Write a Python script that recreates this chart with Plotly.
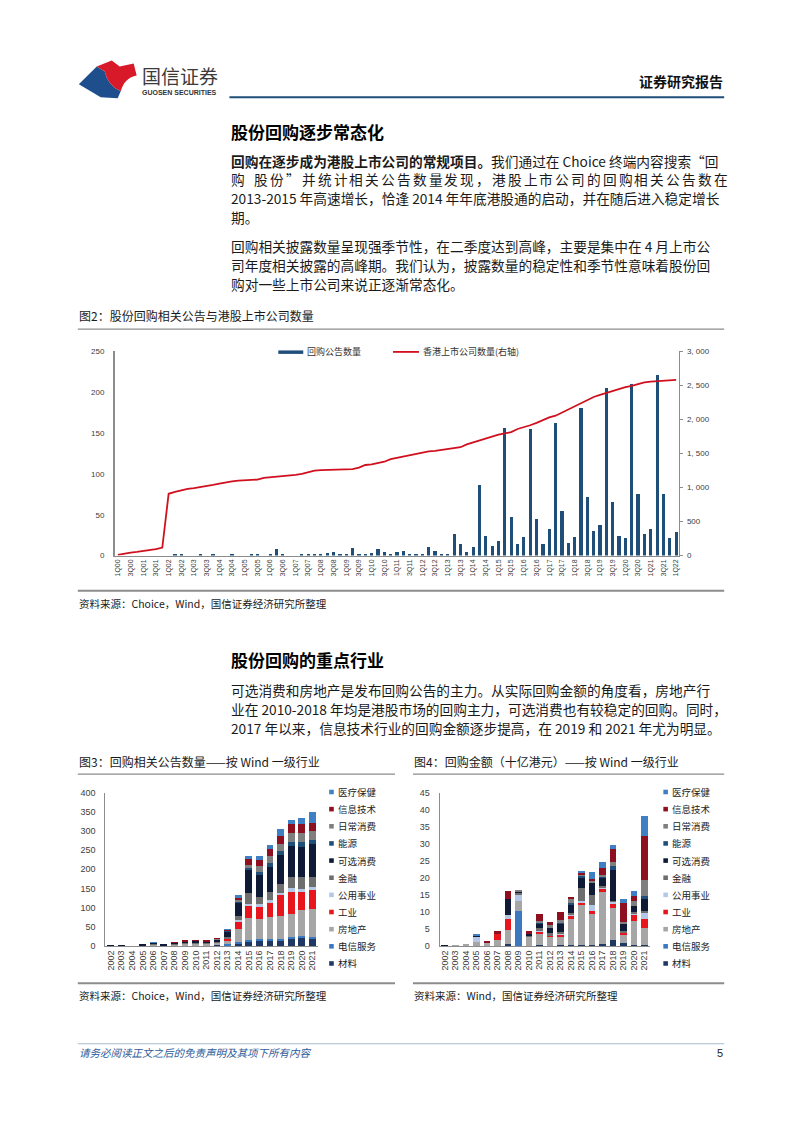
import plotly.graph_objects as go

W, H = 802, 1133
def px(x): return x / W
def py(y): return 1 - y / H

# ---------------- Figure 2 data ----------------
quarters = ['1Q00','2Q00','3Q00','4Q00','1Q01','2Q01','3Q01','4Q01','1Q02','2Q02','3Q02','4Q02',
            '1Q03','2Q03','3Q03','4Q03','1Q04','2Q04','3Q04','4Q04','1Q05','2Q05','3Q05','4Q05',
            '1Q06','2Q06','3Q06','4Q06','1Q07','2Q07','3Q07','4Q07','1Q08','2Q08','3Q08','4Q08',
            '1Q09','2Q09','3Q09','4Q09','1Q10','2Q10','3Q10','4Q10','1Q11','2Q11','3Q11','4Q11',
            '1Q12','2Q12','3Q12','4Q12','1Q13','2Q13','3Q13','4Q13','1Q14','2Q14','3Q14','4Q14',
            '1Q15','2Q15','3Q15','4Q15','1Q16','2Q16','3Q16','4Q16','1Q17','2Q17','3Q17','4Q17',
            '1Q18','2Q18','3Q18','4Q18','1Q19','2Q19','3Q19','4Q19','1Q20','2Q20','3Q20','4Q20',
            '1Q21','2Q21','3Q21','4Q21','1Q22']
buyback_counts = [0, 0, 0, 0, 0, 0, 0, 0, 0,
                  0.3, 0.3, 0, 0, 0.3, 0, 0.3, 0, 0, 0.3, 0,
                  0, 1.5, 1, 0, 0.5, 7.5, 2, 0, 0, 1,
                  2, 1, 0.5, 3, 4.5, 0.5, 2, 9, 2.5, 1.5,
                  3, 7.5, 4, 1, 5, 5.5, 2, 1, 0.5, 11,
                  5.5, 0.5, 0.5, 26, 14, 4, 10, 86, 24, 12,
                  18, 156, 47, 14, 23, 155, 45, 14, 32, 162,
                  55, 16, 23, 181, 72, 30, 38, 205, 66, 24,
                  22, 210, 76, 27, 32, 221, 76, 22, 29]
hk_listed = [10, 30, 45, 55, 65, 80, 95, 117, 908, 935,
             960, 981, 992, 1005, 1020, 1039, 1058, 1078, 1090, 1103,
             1108, 1112, 1117, 1141, 1150, 1155, 1161, 1172, 1185, 1200,
             1219, 1248, 1255, 1260, 1263, 1266, 1270, 1272, 1292, 1331,
             1340, 1355, 1379, 1418, 1437, 1460, 1482, 1500, 1515, 1530,
             1540, 1552, 1562, 1575, 1592, 1635, 1665, 1695, 1727, 1752,
             1776, 1795, 1815, 1860, 1885, 1915, 1950, 1994, 2030, 2055,
             2100, 2150, 2190, 2245, 2290, 2330, 2360, 2390, 2410, 2450,
             2475, 2495, 2520, 2545, 2555, 2562, 2572, 2580, 2582]
quarter_ticks = quarters[::2]
left_ticks = [0, 50, 100, 150, 200, 250]
right_ticks = [0, 500, 1000, 1500, 2000, 2500, 3000]
right_ticktext = ['0', '500', '1, 000', '1, 500', '2, 000', '2, 500', '3, 000']

# ---------------- Figure 3 / 4 data ----------------
years = ['2002','2003','2004','2005','2006','2007','2008','2009','2010','2011',
         '2012','2013','2014','2015','2016','2017','2018','2019','2020','2021']
industry_names = ['材料', '电信服务', '房地产', '工业', '公用事业', '金融',
                  '可选消费', '能源', '日常消费', '信息技术', '医疗保健']
# counts of announcements (Fig 3)
cnt_materials   = [0,0,0,0,1,0,1,2,1,1,2,3,7,13,15,15,15,19,22,21]
cnt_telecom     = [0,0,0,0,0,0,0,0,0,0,0,1,2,3,3,3,3,3,3,2]
cnt_realestate  = [1,0,0.5,1,3,2,3,4,5,5,7,10,36,57,51,58,60,61,68,73]
cnt_industrials = [0,0,0,1,1,1,1,2,2,2,2,5,19,31,33,36,54,59,47,50]
cnt_utilities   = [0,0,0,0,0,0,0,0,0,0,0,1,4,6,7,7,6,10,8,7]
cnt_financials  = [0,0,0,0,1,0,1,1,2,1,2,3,11,28,20,21,24,27,33,26]
cnt_consdisc    = [1,1,0,2,3,2,3,4,4,3,5,15,35,59,57,67,75,82,78,86]
cnt_energy      = [0,0,0,0,0,0,0,0,0,0,0,2,4,6,8,9,10,11,11,11]
cnt_staples     = [0,0,0,0,0,0,0,0,0,1,1,2,4,9,15,18,20,24,24,24]
cnt_infotech    = [0,0,0,0,0,0,1,1,1,1,1,1,3,14,15,19,20,21,23,22]
cnt_health      = [0,0,0,0,1,0,0,0,0,0,0,2,7,8,12,10,18,13,18,28]
# amounts, HKD bn (Fig 4)
amt_materials   = [0,0,0,0,0,0,0.5,0,0,0.3,0,0.3,0.3,0.4,0.3,0.5,1.8,0.8,0.2,0.2]
amt_telecom     = [0,0,0,0,0,0,0,10.2,0,0,0,0,0,0,0,0,0,0,0,0]
amt_realestate  = [0,0.1,0.6,1.2,1.2,1.8,4.2,2.9,2.9,3.4,2.9,2.6,7.7,12.0,9.2,15.3,9.4,2.6,7.2,5.1]
amt_industrials = [0,0,0,0,0,1.7,3.1,0,0,0.5,0.3,0.5,1.0,0.5,0.8,1.2,1.4,0.5,1.8,2.7]
amt_utilities   = [0,0,0,1.6,0,0,1.2,2.0,0,0.2,0,0.3,0.3,0.3,1.8,0.2,0.4,0.2,0.4,2.0]
amt_financials  = [0,0,0,0,0,0,0,0.3,0.2,1.0,0.5,0.5,0.3,3.8,2.9,0.3,0.2,0.3,0.3,0.3]
amt_consdisc    = [0.2,0,0,0.3,0,0,4.7,0.7,0.5,1.2,1.9,2.4,2.6,3.3,3.4,2.8,9.0,2.2,1.7,3.4]
amt_energy      = [0,0,0,0,0,0,0,0,0,0.3,0,0.5,0.3,0.3,0,0.2,1.2,0,0,1.0]
amt_staples     = [0,0,0,0,0,0,0,0.3,0,0.4,0.5,0.4,1.2,0.6,0.6,0.2,1.2,0.3,1.6,4.7]
amt_infotech    = [0,0,0,0,0.3,1.0,2.4,0,0.9,2.0,0.8,2.5,0.6,0.5,0.6,2.3,4.0,5.7,1.6,12.9]
amt_health      = [0,0,0,0.3,0,0,0,0,0,0,0,0,0,0.3,2.0,1.6,1.0,1.1,1.3,6.0]

cnt_series = [cnt_materials, cnt_telecom, cnt_realestate, cnt_industrials, cnt_utilities,
              cnt_financials, cnt_consdisc, cnt_energy, cnt_staples, cnt_infotech, cnt_health]
amt_series = [amt_materials, amt_telecom, amt_realestate, amt_industrials, amt_utilities,
              amt_financials, amt_consdisc, amt_energy, amt_staples, amt_infotech, amt_health]
industry_colors = ['#1F3864', '#3B78BF', '#A6A6A6', '#E8161C', '#B4C7E7', '#6E6E6E',
                   '#0E1A36', '#1F4E79', '#7F7F7F', '#8E1020', '#3F7FC4']

BLUE = '#1F4E79'
RED = '#D0101E'
TICK = '#404040'
NUMFONT = 'Liberation Sans'
CJK = 'Noto Sans CJK SC'

fig = go.Figure()
fig.add_trace(go.Bar(x=quarters, y=buyback_counts, marker=dict(color=BLUE, line=dict(width=0)),
                     width=0.5, xaxis='x', yaxis='y', showlegend=False, name='回购公告数量'))
fig.add_trace(go.Scatter(x=quarters, y=hk_listed, mode='lines', line=dict(color=RED, width=1.8),
                         xaxis='x', yaxis='y2', showlegend=False, name='香港上市公司数量(右轴)'))
for name, cnt, amt, col in zip(industry_names, cnt_series, amt_series, industry_colors):
    fig.add_trace(go.Bar(x=years, y=cnt, marker=dict(color=col, line=dict(width=0)), width=0.64,
                         xaxis='x3', yaxis='y3', showlegend=False, name=name))
    fig.add_trace(go.Bar(x=years, y=amt, marker=dict(color=col, line=dict(width=0)), width=0.64,
                         xaxis='x4', yaxis='y4', showlegend=False, name=name))

axis_common = dict(showgrid=False, zeroline=False, showline=True, linecolor='#8C8C8C')
fig.update_layout(
    width=W, height=H, margin=dict(l=0, r=0, t=0, b=0),
    paper_bgcolor='white', plot_bgcolor='white', barmode='stack', showlegend=False,
    font=dict(family=CJK, color='#1a1a1a'),
    xaxis=dict(domain=[px(114), px(680)], anchor='y', type='category', range=[-0.5, 88.5],
               tickmode='array', tickvals=quarter_ticks, tickangle=-90, ticks='',
               tickfont=dict(family=NUMFONT, size=7, color=TICK), linewidth=1, **axis_common),
    yaxis=dict(domain=[py(555.5), py(349.5)], anchor='x', range=[0, 250], tickmode='array',
               tickvals=left_ticks, ticks='', ticklabelstandoff=7,
               tickfont=dict(family=NUMFONT, size=8, color=TICK), linewidth=1.5, **axis_common),
    yaxis2=dict(overlaying='y', anchor='x', side='right', range=[0, 3000], tickmode='array',
                tickvals=right_ticks, ticktext=right_ticktext, ticks='outside', ticklen=3,
                tickcolor='#8C8C8C', ticklabelstandoff=2,
                tickfont=dict(family=NUMFONT, size=8, color=TICK), linewidth=1, **axis_common),
    xaxis3=dict(domain=[px(104.7), px(317.6)], anchor='y3', type='category', tickangle=-90,
                tickmode='array', tickvals=years, range=[-0.5, 19.5],
                ticks='', tickfont=dict(family=NUMFONT, size=9, color=TICK), linewidth=1, **axis_common),
    yaxis3=dict(domain=[py(949.3), py(794.7)], anchor='x3', range=[0, 400], dtick=50, ticks='',
                ticklabelstandoff=7, tickfont=dict(family=NUMFONT, size=9, color=TICK),
                linewidth=1.2, **axis_common),
    xaxis4=dict(domain=[px(439.7), px(650.3)], anchor='y4', type='category', tickangle=-90,
                tickmode='array', tickvals=years, range=[-0.5, 19.5],
                ticks='', tickfont=dict(family=NUMFONT, size=9, color=TICK), linewidth=1, **axis_common),
    yaxis4=dict(domain=[py(949.3), py(794.7)], anchor='x4', range=[0, 45], dtick=5, ticks='',
                ticklabelstandoff=7, tickfont=dict(family=NUMFONT, size=9, color=TICK),
                linewidth=1.2, **axis_common),
)

shapes = []
annotations = []

def hline(x0, x1, y, color, width):
    shapes.append(dict(type='line', xref='paper', yref='paper', x0=px(x0), x1=px(x1),
                       y0=py(y), y1=py(y), line=dict(color=color, width=width)))

def rect(x0, y0, x1, y1, color):
    shapes.append(dict(type='rect', xref='paper', yref='paper', x0=px(x0), x1=px(x1),
                       y0=py(y1), y1=py(y0), fillcolor=color, line=dict(width=0)))

def text(x, y, s, size, color='#1a1a1a', anchor='left', family=CJK):
    annotations.append(dict(xref='paper', yref='paper', x=px(x), y=py(y), text=s,
                            showarrow=False, xanchor=anchor, yanchor='middle',
                            font=dict(size=size, color=color, family=family), borderpad=0))

def spread(x0, x1, y, s, size):
    # justified line: place each character evenly between x0 and x1
    n = len(s)
    step = (x1 - x0 - size) / (n - 1)
    for i, ch in enumerate(s):
        text(x0 + i * step, y, ch, size)

def path(points):
    segs = []
    for cmd, pts in points:
        coords = ' '.join(f'{px(a):.5f},{py(b):.5f}' for a, b in pts)
        segs.append(f'{cmd} {coords}')
    return ' '.join(segs) + ' Z'

# ---- header ----
shapes.append(dict(type='path', xref='paper', yref='paper', fillcolor='#1E4F8C', line=dict(width=0),
                   path=path([('M', [(78, 80)]), ('L', [(96, 62)]), ('L', [(104, 67)]),
                              ('Q', [(107, 81), (120, 87)]), ('L', [(117, 94)]), ('L', [(100, 93)])])))
shapes.append(dict(type='path', xref='paper', yref='paper', fillcolor='#D7192A', line=dict(width=0),
                   path=path([('M', [(96, 62)]), ('L', [(111, 56)]), ('L', [(119, 62)]),
                              ('L', [(133, 59)]), ('L', [(136, 71)]), ('Q', [(124, 73), (120, 87)]),
                              ('Q', [(107, 81), (104, 67)])])))
text(140, 71, '国信证券', 19, '#3a3a3a')
text(140, 88, '<b>GUOSEN SECURITIES</b>', 7, '#333333', family=NUMFONT)
text(725, 77, '<b>证券研究报告</b>', 14, '#111111', anchor='right')
hline(229, 725, 93, '#1F4E79', 2)

# ---- section 1 ----
BODY = 13.7
text(230, 128, '<b>股份回购逐步常态化</b>', 17, '#000000')
text(230, 157, '<b>回购在逐步成为港股上市公司的常规项目。</b>我们通过在 Choice 终端内容搜索“回', BODY)
text(230, 176, '购', BODY)
spread(253, 727, 176, '股份”并统计相关公告数量发现，港股上市公司的回购相关公告数在', BODY)
text(230, 195, '2013-2015 年高速增长，恰逢 2014 年年底港股通的启动，并在随后进入稳定增长', BODY)
text(230, 214, '期。', BODY)
text(230, 243, '回购相关披露数量呈现强季节性，在二季度达到高峰，主要是集中在 4 月上市公', BODY)
text(230, 262, '司年度相关披露的高峰期。我们认为，披露数量的稳定性和季节性意味着股份回', BODY)
text(230, 281, '购对一些上市公司来说正逐渐常态化。', BODY)

# ---- figure 2 frame ----
text(77, 313, '图2：股份回购相关公告与港股上市公司数量', 12)
hline(77, 725, 327, '#8C8C8C', 1.2)
rect(278, 348.5, 303, 352, BLUE)
text(306, 350, '回购公告数量', 9, '#333333')
hline(393, 419, 350, RED, 1.8)
text(422, 350, '香港上市公司数量(右轴)', 9, '#333333')
hline(77, 725, 591, '#8C8C8C', 2)
text(77, 604, '资料来源：Choice，Wind，国信证券经济研究所整理', 10.5)

# ---- section 2 ----
text(230, 660, '<b>股份回购的重点行业</b>', 17, '#000000')
text(230, 691, '可选消费和房地产是发布回购公告的主力。从实际回购金额的角度看，房地产行', BODY)
text(230, 710, '业在 2010-2018 年均是港股市场的回购主力，可选消费也有较稳定的回购。同时，', BODY)
text(230, 729, '2017 年以来，信息技术行业的回购金额逐步提高，在 2019 和 2021 年尤为明显。', BODY)

# ---- figure 3 / 4 frames ----
text(77, 763, '图3：回购相关公告数量——按 Wind 一级行业', 12)
text(413, 763, '图4：回购金额（十亿港元）——按 Wind 一级行业', 12)
hline(77, 395, 776, '#8C8C8C', 1.2)
hline(413, 725, 776, '#8C8C8C', 1.2)
legend_rows = list(zip(industry_names, industry_colors))[::-1]
for k, (name, col) in enumerate(legend_rows):
    yy = 794 + k * 17.3
    for lx in (329, 664):
        rect(lx, yy - 2.3, lx + 4.6, yy + 2.3, col)
        text(lx + 8, yy, name, 9.5, '#222222')
hline(77, 395, 987, '#8C8C8C', 2)
hline(413, 725, 987, '#8C8C8C', 2)
text(77, 999, '资料来源：Choice，Wind，国信证券经济研究所整理', 10.5)
text(413, 999, '资料来源：Wind，国信证券经济研究所整理', 10.5)

# ---- footer ----
hline(77, 725, 1048, '#A9BCD0', 1)
text(77, 1057, '<i>请务必阅读正文之后的免责声明及其项下所有内容</i>', 10.5, '#2E5C9A')
text(725, 1057, '5', 11, '#222222', anchor='right', family=NUMFONT)

fig.update_layout(shapes=shapes, annotations=annotations)
fig.write_html('out.html')
